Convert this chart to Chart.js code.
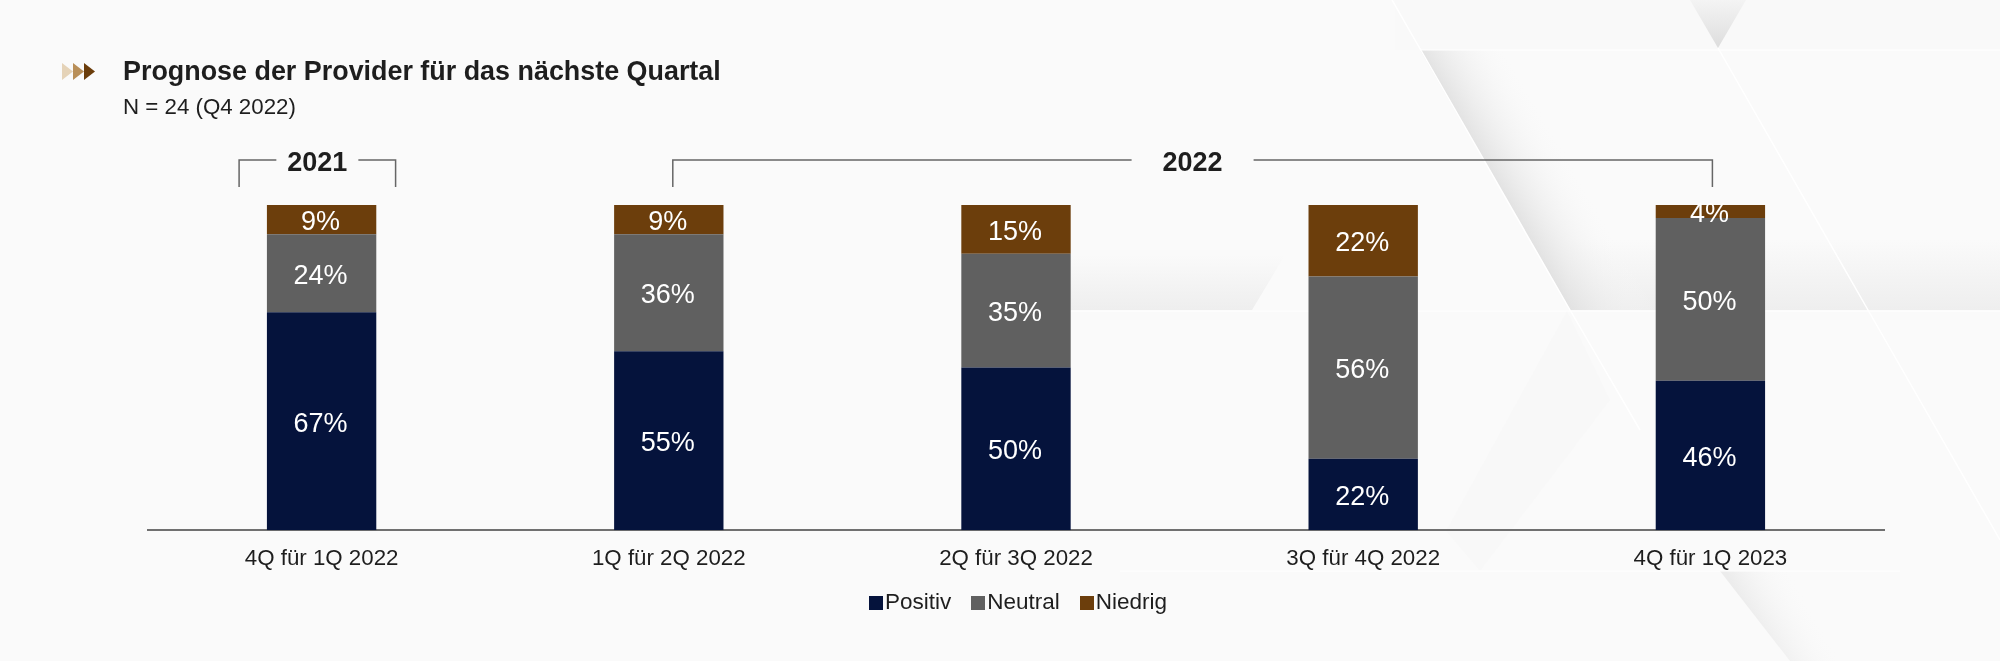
<!DOCTYPE html>
<html lang="de">
<head>
<meta charset="utf-8">
<title>Prognose der Provider</title>
<script src="https://cdn.jsdelivr.net/npm/chart.js@4"></script>
<style>
  html, body { margin: 0; padding: 0; background: #fafafa; }
  #wrap { position: relative; width: 2000px; height: 661px; overflow: hidden; font-family: "Liberation Sans", Arial, sans-serif; color: #1e1e1e; }
  #bg, #grafico { position: absolute; left: 0; top: 0; }
  #titel { position: absolute; left: 123px; top: 55px; font-size: 26.9px; line-height: 32px; font-weight: bold; }
  #unter { position: absolute; left: 123px; top: 94px; font-size: 22.3px; line-height: 26px; }
  #legende { position: absolute; left: 18px; width: 2000px; top: 589px; display: flex; justify-content: center; font-size: 22.5px; line-height: 26px; }
  #legende span.item { display: flex; align-items: center; margin: 0 10px; }
  #legende i { display: inline-block; width: 14px; height: 14px; margin-right: 2px; margin-top: 2px; }
</style>
</head>
<body>
<div id="wrap">
  <svg id="bg" width="2000" height="661" viewBox="0 0 2000 661">
    <defs>
      <linearGradient id="g1" x1="0" y1="0" x2="0" y2="1"><stop offset="0" stop-color="#f4f4f4"/><stop offset="1" stop-color="#dddddd"/></linearGradient>
      <linearGradient id="g2" gradientUnits="userSpaceOnUse" x1="1495" y1="180" x2="1560" y2="142"><stop offset="0" stop-color="#e2e2e2"/><stop offset="1" stop-color="#fafafa" stop-opacity="0"/></linearGradient>
      <linearGradient id="g3" x1="0" y1="0" x2="0" y2="1"><stop offset="0" stop-color="#eeeeee" stop-opacity="0"/><stop offset="1" stop-color="#eeeeee"/></linearGradient>
      <linearGradient id="g4" gradientUnits="userSpaceOnUse" x1="1750" y1="615" x2="1800" y2="587"><stop offset="0" stop-color="#ececec"/><stop offset="1" stop-color="#fafafa" stop-opacity="0"/></linearGradient>
    </defs>
    <rect x="1395" y="0" width="605" height="50" fill="#f9f9f9"/>
    <polygon points="1070,255 1285,255 1252,310 1070,310" fill="url(#g3)"/>
    <polygon points="1570,240 2000,240 2000,310 1570,310" fill="url(#g3)"/>
    <polygon points="1420,50 1570,310 1790,310 1640,50" fill="url(#g2)"/>
    <polygon points="1690,0 1746,0 1718,48" fill="url(#g1)"/>
    <polygon points="1567,311 1446,531 1480,571 1610,400" fill="#f8f8f8"/>
    <polygon points="1720,571 1790,661 1950,661 1830,571" fill="url(#g4)"/>
    <polyline points="1392,0 1570,310 1640,430" fill="none" stroke="#ffffff" stroke-width="1.5"/>
    <polyline points="1718,48 1868,310 2000,540" fill="none" stroke="#ffffff" stroke-width="1.5"/>
    <line x1="1420" y1="50" x2="2000" y2="50" stroke="#ffffff" stroke-width="1"/>
    <line x1="1040" y1="311" x2="2000" y2="311" stroke="#ffffff" stroke-width="1"/>
    <line x1="1120" y1="571" x2="1900" y2="571" stroke="#ffffff" stroke-width="1"/>
  </svg>
  <canvas id="grafico" width="2000" height="661"></canvas>
  <div id="titel">Prognose der Provider für das nächste Quartal</div>
  <div id="unter">N = 24 (Q4 2022)</div>
  <div id="legende"></div>
</div>
<script>
const quartale = ["4Q für 1Q 2022", "1Q für 2Q 2022", "2Q für 3Q 2022", "3Q für 4Q 2022", "4Q für 1Q 2023"];
const positiv = [67, 55, 50, 22, 46];
const neutral = [24, 36, 35, 56, 50];
const niedrig = [9, 9, 15, 22, 4];

const jahre = [
  { text: "2021", von: 0, bis: 0, links: -82.5, rechts: 74, textLuecke: 41 },
  { text: "2022", von: 1, bis: 4, links: 4, rechts: 2, textLuecke: 61 }
];

const schrift = '"Liberation Sans", Arial, sans-serif';

// prozent-werte in die balken schreiben
const werteLabels = {
  id: "werteLabels",
  afterDatasetsDraw(chart) {
    const ctx = chart.ctx;
    ctx.save();
    ctx.fillStyle = "#ffffff";
    ctx.font = "27px " + schrift;
    ctx.textAlign = "center";
    ctx.textBaseline = "middle";
    chart.data.datasets.forEach((ds, i) => {
      chart.getDatasetMeta(i).data.forEach((bar, j) => {
        const p = bar.getCenterPoint();
        ctx.fillText(ds.data[j] + "%", p.x - 1, p.y + 3);
      });
    });
    ctx.restore();
  }
};

// klammern mit jahreszahl ueber den balken und die pfeile neben dem titel
const klammern = {
  id: "klammern",
  afterDraw(chart) {
    const ctx = chart.ctx;
    const x = chart.scales.x;
    const oben = 160;
    const unten = 187;
    ctx.save();
    ctx.strokeStyle = "#666666";
    ctx.lineWidth = 1.5;
    jahre.forEach(j => {
      const a = x.getPixelForValue(j.von) + j.links;
      const b = x.getPixelForValue(j.bis) + j.rechts;
      const m = (a + b) / 2;
      ctx.beginPath();
      ctx.moveTo(a, unten);
      ctx.lineTo(a, oben);
      ctx.lineTo(m - j.textLuecke, oben);
      ctx.moveTo(m + j.textLuecke, oben);
      ctx.lineTo(b, oben);
      ctx.lineTo(b, unten);
      ctx.stroke();
      ctx.fillStyle = "#1e1e1e";
      ctx.font = "bold 27px " + schrift;
      ctx.textAlign = "center";
      ctx.textBaseline = "middle";
      ctx.fillText(j.text, m, oben + 4);
    });
    const farben = ["#e5d3b8", "#b98f58", "#6b3d0b"];
    farben.forEach((f, i) => {
      const l = 62 + i * 11;
      ctx.fillStyle = f;
      ctx.beginPath();
      ctx.moveTo(l, 63);
      ctx.lineTo(l + 11, 71.5);
      ctx.lineTo(l, 80);
      ctx.closePath();
      ctx.fill();
    });
    ctx.restore();
  }
};

const chart = new Chart(document.getElementById("grafico"), {
  type: "bar",
  data: {
    labels: quartale,
    datasets: [
      { label: "Positiv", data: positiv, backgroundColor: "#05133c" },
      { label: "Neutral", data: neutral, backgroundColor: "#606060" },
      { label: "Niedrig", data: niedrig, backgroundColor: "#6c3e0c" }
    ]
  },
  options: {
    responsive: false,
    animation: false,
    layout: { padding: { left: 148, right: 116, top: 205, bottom: 74 } },
    datasets: { bar: { categoryPercentage: 1, barPercentage: 0.315 } },
    plugins: {
      legend: { display: false },
      title: { display: false },
      tooltip: { enabled: false }
    },
    scales: {
      x: {
        stacked: true,
        grid: { display: false, drawTicks: false },
        border: { color: "#707070", width: 2 },
        ticks: {
          color: "#1e1e1e",
          padding: 15,
          maxRotation: 0,
          font: { family: schrift, size: 22.3 }
        }
      },
      y: {
        stacked: true,
        display: false,
        min: 0,
        max: 100
      }
    }
  },
  plugins: [werteLabels, klammern]
});

// legende als html, die farben kommen aus den datasets
document.getElementById("legende").innerHTML = chart.data.datasets.map(ds =>
  '<span class="item"><i style="background:' + ds.backgroundColor + '"></i>' + ds.label + "</span>"
).join("");
</script>
</body>
</html>
